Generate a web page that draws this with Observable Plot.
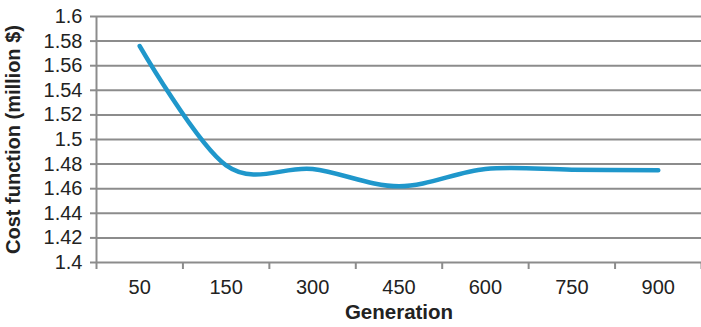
<!DOCTYPE html>
<html>
<head>
<meta charset="utf-8">
<script src="https://cdn.jsdelivr.net/npm/d3@7"></script>
<script src="https://cdn.jsdelivr.net/npm/@observablehq/plot@0.6"></script>
<style>
  html, body { margin: 0; padding: 0; background: #fff; }
  g[aria-label="y-axis label"] text, g[aria-label="y-axis label"] { font-weight: bold; }
</style>
</head>
<body>
<div id="chart"></div>
<script>
const categories = ["50", "150", "300", "450", "600", "750", "900"];
const cost = [1.576, 1.479, 1.476, 1.462, 1.476, 1.4755, 1.475];
const yTicks = [1.4, 1.42, 1.44, 1.46, 1.48, 1.5, 1.52, 1.54, 1.56, 1.58, 1.6];
const xTitle = "Generation";
const yTitle = "Cost function (million $)";

const idx = categories.map((_, i) => i);
const boundaries = d3.range(categories.length + 1).map(i => i - 0.5);
const data = categories.map((c, i) => ({i, c, v: cost[i]}));

const grid = "#8c8c8c";
const ink = "#222";
const chart = Plot.plot({
  width: 701,
  height: 327,
  marginLeft: 96,
  marginRight: 0,
  marginTop: 16,
  marginBottom: 65,
  style: {fontFamily: "Liberation Sans, Arial, sans-serif", fontSize: "20px", color: ink, background: "#fff"},
  x: {type: "linear", domain: [-0.5, categories.length - 0.5]},
  y: {domain: [1.4, 1.6]},
  marks: [
    Plot.ruleY(yTicks, {stroke: grid, strokeWidth: 2}),
    Plot.ruleX([-0.5], {stroke: grid, strokeWidth: 2}),
    Plot.axisY({ticks: yTicks, tickSize: 6, tickPadding: 8, stroke: grid, strokeWidth: 2, fill: ink, fontSize: 20,
      tickFormat: d => String(+d.toFixed(2)),
      label: yTitle, labelAnchor: "center", labelOffset: 91, labelArrow: false}),
    Plot.axisX({ticks: boundaries, tickSize: 7, tickFormat: () => "", stroke: grid, strokeWidth: 2, label: null}),
    Plot.axisX({ticks: idx, tickSize: 0, tickPadding: 17, tickFormat: i => categories[i], fill: ink, fontSize: 20, label: null}),
    Plot.line(data, {x: "i", y: "v", curve: "cardinal", stroke: "#1f97cb", strokeWidth: 4.5, strokeLinecap: "round"}),
    Plot.text([xTitle], {frameAnchor: "bottom", lineAnchor: "middle", dy: 50, text: d => d, fontWeight: "bold", fontSize: 20.5, fill: ink})
  ]
});
document.getElementById("chart").appendChild(chart);
</script>
</body>
</html>
